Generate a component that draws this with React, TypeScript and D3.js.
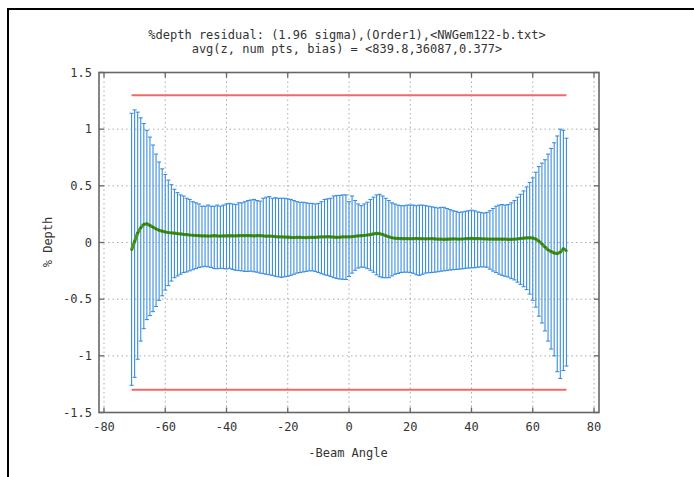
import React from "react";
import * as d3 from "d3";

const angles: number[] = d3.range(-71, 72);

const upper: number[] = [
  1.14, 1.17, 1.15, 1.10, 1.05, 0.99, 0.93, 0.86, 0.78, 0.71,
  0.65, 0.60, 0.55, 0.51, 0.47, 0.44, 0.42, 0.41, 0.39, 0.38,
  0.36, 0.35, 0.34, 0.32, 0.32, 0.33, 0.32, 0.32, 0.33, 0.32,
  0.33, 0.34, 0.345, 0.34, 0.335, 0.35, 0.35, 0.36, 0.37, 0.375,
  0.38, 0.37, 0.365, 0.39, 0.40, 0.405, 0.39, 0.395, 0.39, 0.39,
  0.39, 0.385, 0.38, 0.37, 0.36, 0.355, 0.355, 0.35, 0.345, 0.345,
  0.34, 0.345, 0.36, 0.38, 0.385, 0.39, 0.41, 0.415, 0.415, 0.42,
  0.42, 0.36, 0.41, 0.37, 0.34, 0.325, 0.34, 0.355, 0.38, 0.40,
  0.42, 0.425, 0.41, 0.39, 0.37, 0.35, 0.34, 0.33, 0.325, 0.325,
  0.33, 0.33, 0.33, 0.325, 0.33, 0.33, 0.325, 0.32, 0.315, 0.31,
  0.305, 0.31, 0.31, 0.30, 0.29, 0.28, 0.275, 0.265, 0.27, 0.275,
  0.28, 0.285, 0.28, 0.27, 0.265, 0.26, 0.265, 0.28, 0.30, 0.32,
  0.33, 0.335, 0.33, 0.335, 0.35, 0.37, 0.40, 0.425, 0.455, 0.49,
  0.53, 0.57, 0.62, 0.67, 0.70, 0.73, 0.78, 0.83, 0.88, 0.94,
  1.00, 0.99, 0.92,
];

const lower: number[] = [
  -1.26, -1.19, -1.03, -0.87, -0.76, -0.68, -0.645, -0.61, -0.565, -0.51,
  -0.47, -0.42, -0.38, -0.34, -0.31, -0.295, -0.28, -0.265, -0.26, -0.25,
  -0.24, -0.23, -0.22, -0.215, -0.21, -0.215, -0.22, -0.23, -0.232, -0.228,
  -0.23, -0.233, -0.228, -0.238, -0.245, -0.248, -0.25, -0.255, -0.255, -0.253,
  -0.258, -0.262, -0.27, -0.275, -0.28, -0.285, -0.29, -0.298, -0.303, -0.308,
  -0.302, -0.298, -0.29, -0.28, -0.27, -0.265, -0.26, -0.255, -0.25, -0.25,
  -0.255, -0.265, -0.275, -0.285, -0.29, -0.3, -0.31, -0.318, -0.322, -0.325,
  -0.326, -0.30, -0.27, -0.245, -0.225, -0.218, -0.218, -0.23, -0.245, -0.262,
  -0.285, -0.302, -0.31, -0.311, -0.31, -0.295, -0.28, -0.273, -0.265, -0.262,
  -0.262, -0.265, -0.272, -0.285, -0.29, -0.28, -0.27, -0.267, -0.265, -0.262,
  -0.258, -0.253, -0.25, -0.247, -0.243, -0.24, -0.238, -0.235, -0.232, -0.228,
  -0.225, -0.224, -0.222, -0.218, -0.215, -0.215, -0.218, -0.235, -0.252, -0.265,
  -0.28, -0.29, -0.298, -0.305, -0.318, -0.33, -0.35, -0.37, -0.39, -0.415,
  -0.455, -0.51, -0.57, -0.65, -0.71, -0.78, -0.87, -0.94, -1.0, -1.14,
  -1.2, -1.13, -1.09,
];

const mean: number[] = [
  -0.065, 0.01, 0.085, 0.13, 0.16, 0.165, 0.15, 0.135, 0.12, 0.108,
  0.1, 0.093, 0.088, 0.085, 0.082, 0.078, 0.076, 0.072, 0.07, 0.066,
  0.064, 0.062, 0.06, 0.058, 0.058, 0.057, 0.058, 0.06, 0.058, 0.057,
  0.058, 0.058, 0.06, 0.059, 0.058, 0.06, 0.061, 0.06, 0.062, 0.06,
  0.058, 0.06, 0.061, 0.058, 0.056, 0.057, 0.055, 0.052, 0.05, 0.05,
  0.048, 0.047, 0.045, 0.044, 0.045, 0.046, 0.044, 0.043, 0.045, 0.046,
  0.046, 0.048, 0.05, 0.05, 0.052, 0.05, 0.048, 0.046, 0.047, 0.05,
  0.05, 0.05, 0.052, 0.055, 0.058, 0.06, 0.062, 0.066, 0.07, 0.076,
  0.08, 0.078, 0.07, 0.06, 0.05, 0.042, 0.038, 0.036, 0.035, 0.034,
  0.034, 0.033, 0.034, 0.035, 0.034, 0.033, 0.032, 0.033, 0.034, 0.032,
  0.03, 0.03, 0.028, 0.029, 0.03, 0.032, 0.031, 0.03, 0.031, 0.033,
  0.035, 0.036, 0.034, 0.035, 0.033, 0.032, 0.031, 0.03, 0.03, 0.031,
  0.03, 0.029, 0.03, 0.028, 0.028, 0.03, 0.032, 0.035, 0.038, 0.04,
  0.042, 0.04, 0.03, 0.012, -0.012, -0.04, -0.065, -0.08, -0.092, -0.098,
  -0.085, -0.055, -0.072,
];

const limitValue = 1.3;
const limitRange: number[] = [-71, 71];
const xTicks: number[] = [-80, -60, -40, -20, 0, 20, 40, 60, 80];
const yTicks: number[] = [-1.5, -1, -0.5, 0, 0.5, 1, 1.5];
const titleLines: string[] = [
  "%depth residual: (1.96 sigma),(Order1),<NWGem122-b.txt>",
  "avg(z, num pts, bias) = <839.8,36087,0.377>",
];
const xLabel = "-Beam Angle";
const yLabel = "% Depth";

export default function App() {
  const W = 694;
  const H = 477;
  const boxL = 99;
  const boxR = 599;
  const boxT = 72.5;
  const boxB = 412.5;
  const x = d3.scaleLinear().domain([-80, 80]).range([104, 594]);
  const y = d3.scaleLinear().domain([-1.5, 1.5]).range([boxB, boxT]);
  const font = "'DejaVu Sans Mono', monospace";
  const axisColor = "#666";
  const textColor = "#333";
  const tickLen = 5;

  const meanLine = d3
    .line<number>()
    .x((_, i) => x(angles[i]))
    .y((d) => y(d))
    .curve(d3.curveLinear)(mean) as string;

  const capHalf = 2;

  return (
    <svg
      width={W}
      height={H}
      style={{ position: "absolute", left: 0, top: 0, background: "#fff" }}
    >
      <rect x={0} y={0} width={W} height={H} fill="#fff" />
      {/* outer frame */}
      <line x1={7} y1={9} x2={W} y2={9} stroke="#000" strokeWidth={2} />
      <line x1={8} y1={8} x2={8} y2={H} stroke="#000" strokeWidth={2} />

      {/* grid */}
      {xTicks.map((t) => (
        <line
          key={"gx" + t}
          x1={x(t)}
          x2={x(t)}
          y1={boxT}
          y2={boxB}
          stroke="#aaa"
          strokeWidth={1}
          strokeDasharray="1.5,3"
        />
      ))}
      {yTicks.map((t) => (
        <line
          key={"gy" + t}
          x1={boxL}
          x2={boxR}
          y1={y(t)}
          y2={y(t)}
          stroke="#aaa"
          strokeWidth={1}
          strokeDasharray="1.5,3"
        />
      ))}

      {/* limit lines */}
      {[limitValue, -limitValue].map((v) => (
        <line
          key={"lim" + v}
          x1={x(limitRange[0])}
          x2={x(limitRange[1])}
          y1={y(v)}
          y2={y(v)}
          stroke="#ee6a6a"
          strokeWidth={2}
        />
      ))}

      {/* error bars */}
      <g stroke="#3a8de0" strokeWidth={1.1}>
        {angles.map((a, i) => {
          const cx = x(a);
          return (
            <g key={"eb" + a}>
              <line x1={cx} x2={cx} y1={y(upper[i])} y2={y(lower[i])} />
              <line x1={cx - capHalf} x2={cx + capHalf} y1={y(upper[i])} y2={y(upper[i])} />
              <line x1={cx - capHalf} x2={cx + capHalf} y1={y(lower[i])} y2={y(lower[i])} />
            </g>
          );
        })}
      </g>

      {/* mean line */}
      <path d={meanLine} fill="none" stroke="#4c9a1a" strokeWidth={3.2} strokeLinejoin="round" />
      <g fill="#2f7a0c">
        {mean.map((m, i) => (
          <circle key={"pt" + i} cx={x(angles[i])} cy={y(m)} r={1.2} />
        ))}
      </g>

      {/* axis box */}
      <rect
        x={boxL}
        y={boxT}
        width={boxR - boxL}
        height={boxB - boxT}
        fill="none"
        stroke={axisColor}
        strokeWidth={1.6}
      />
      {xTicks.map((t) => (
        <g key={"tx" + t} stroke={axisColor} strokeWidth={1.3}>
          <line x1={x(t)} x2={x(t)} y1={boxB} y2={boxB - tickLen} />
          <line x1={x(t)} x2={x(t)} y1={boxT} y2={boxT + tickLen} />
        </g>
      ))}
      {yTicks.map((t) => (
        <g key={"ty" + t} stroke={axisColor} strokeWidth={1.3}>
          <line x1={boxL} x2={boxL + tickLen} y1={y(t)} y2={y(t)} />
          <line x1={boxR} x2={boxR - tickLen} y1={y(t)} y2={y(t)} />
        </g>
      ))}

      {/* tick labels */}
      {xTicks.map((t) => (
        <text
          key={"lx" + t}
          x={x(t)}
          y={431}
          textAnchor="middle"
          fontFamily={font}
          fontSize={12}
          fill={textColor}
        >
          {String(t)}
        </text>
      ))}
      {yTicks.map((t) => (
        <text
          key={"ly" + t}
          x={92}
          y={y(t) + 4}
          textAnchor="end"
          fontFamily={font}
          fontSize={12}
          fill={textColor}
        >
          {String(t)}
        </text>
      ))}

      {/* titles */}
      {titleLines.map((s, i) => (
        <text
          key={"tt" + i}
          x={347}
          y={39 + i * 14}
          textAnchor="middle"
          fontFamily={font}
          fontSize={12}
          fill={textColor}
        >
          {s}
        </text>
      ))}
      <text
        x={348}
        y={457}
        textAnchor="middle"
        fontFamily={font}
        fontSize={12}
        fill={textColor}
      >
        {xLabel}
      </text>
      <text
        transform={`translate(52,242) rotate(-90)`}
        textAnchor="middle"
        fontFamily={font}
        fontSize={12}
        fill={textColor}
      >
        {yLabel}
      </text>
    </svg>
  );
}
